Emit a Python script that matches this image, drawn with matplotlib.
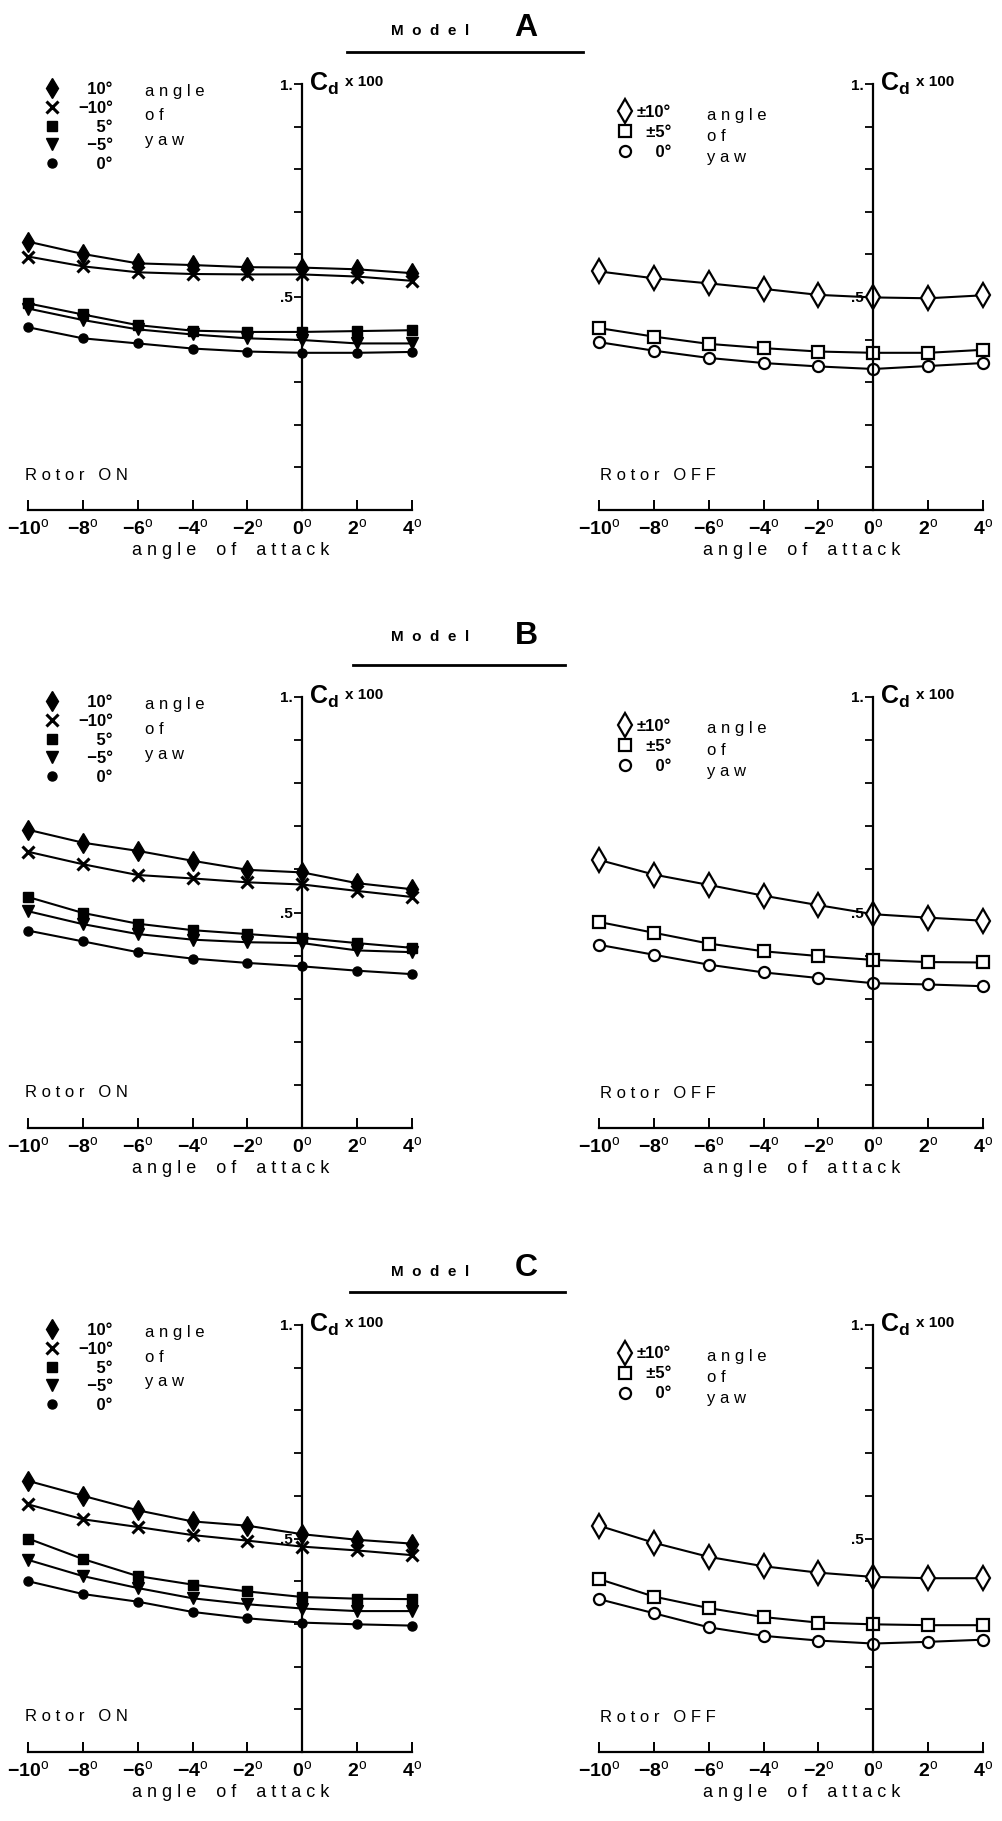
import matplotlib
matplotlib.use('Agg')
import matplotlib.pyplot as plt
from matplotlib.lines import Line2D
import numpy as np

plt.rcParams['font.family'] = ['Liberation Sans', 'DejaVu Sans']
plt.rcParams['mathtext.fontset'] = 'custom'
plt.rcParams['mathtext.rm'] = 'Liberation Sans'
plt.rcParams['mathtext.bf'] = 'Liberation Sans:bold'

# angle of attack (deg)
alpha = [-10, -8, -6, -4, -2, 0, 2, 4]
alpha_labels = ['-10', '-8', '-6', '-4', '-2', '0', '2', '4']

# yaw angles for the legends
on_yaw = ['10', '\u221210', '5', '\u22125', '0']
off_yaw = ['\u00b110', '\u00b15', '0']

# Cd x 100, Model A
a_on_p10 = [0.630, 0.601, 0.579, 0.575, 0.570, 0.569, 0.565, 0.556]
a_on_m10 = [0.595, 0.572, 0.558, 0.554, 0.553, 0.553, 0.548, 0.538]
a_on_p5 = [0.485, 0.459, 0.434, 0.421, 0.418, 0.418, 0.420, 0.422]
a_on_m5 = [0.473, 0.446, 0.424, 0.412, 0.403, 0.399, 0.391, 0.391]
a_on_0 = [0.429, 0.403, 0.391, 0.379, 0.372, 0.369, 0.369, 0.371]
a_off_10 = [0.560, 0.544, 0.532, 0.519, 0.505, 0.499, 0.497, 0.504]
a_off_5 = [0.427, 0.407, 0.390, 0.380, 0.372, 0.369, 0.369, 0.376]
a_off_0 = [0.394, 0.374, 0.357, 0.345, 0.337, 0.331, 0.338, 0.345]

# Model B
b_on_p10 = [0.692, 0.662, 0.643, 0.620, 0.599, 0.593, 0.568, 0.554]
b_on_m10 = [0.641, 0.612, 0.587, 0.579, 0.570, 0.565, 0.550, 0.536]
b_on_p5 = [0.536, 0.499, 0.474, 0.459, 0.450, 0.441, 0.429, 0.418]
b_on_m5 = [0.503, 0.473, 0.450, 0.437, 0.431, 0.429, 0.412, 0.408]
b_on_0 = [0.458, 0.433, 0.408, 0.393, 0.383, 0.375, 0.365, 0.357]
b_off_10 = [0.622, 0.588, 0.564, 0.539, 0.517, 0.496, 0.488, 0.481]
b_off_5 = [0.478, 0.453, 0.428, 0.410, 0.399, 0.390, 0.385, 0.384]
b_off_0 = [0.425, 0.402, 0.379, 0.361, 0.348, 0.336, 0.333, 0.329]

# Model C
c_on_p10 = [0.635, 0.600, 0.566, 0.540, 0.530, 0.510, 0.497, 0.488]
c_on_m10 = [0.580, 0.545, 0.527, 0.508, 0.495, 0.481, 0.472, 0.461]
c_on_p5 = [0.500, 0.452, 0.412, 0.392, 0.376, 0.363, 0.359, 0.358]
c_on_m5 = [0.450, 0.412, 0.384, 0.360, 0.346, 0.336, 0.330, 0.330]
c_on_0 = [0.400, 0.370, 0.352, 0.328, 0.313, 0.303, 0.299, 0.296]
c_off_10 = [0.530, 0.490, 0.457, 0.435, 0.420, 0.410, 0.407, 0.407]
c_off_5 = [0.405, 0.364, 0.337, 0.316, 0.303, 0.299, 0.297, 0.297]
c_off_0 = [0.358, 0.325, 0.292, 0.272, 0.261, 0.254, 0.258, 0.263]

models = ['A', 'B', 'C']
rotor_on = [[a_on_p10, a_on_m10, a_on_p5, a_on_m5, a_on_0],
            [b_on_p10, b_on_m10, b_on_p5, b_on_m5, b_on_0],
            [c_on_p10, c_on_m10, c_on_p5, c_on_m5, c_on_0]]
rotor_off = [[a_off_10, a_off_5, a_off_0],
             [b_off_10, b_off_5, b_off_0],
             [c_off_10, c_off_5, c_off_0]]

# marker styles
st_on = [dict(marker='d', ms=10, mfc='k'),
         dict(marker='x', ms=8, mew=2.2),
         dict(marker='s', ms=6.5, mfc='k'),
         dict(marker='v', ms=8.5, mfc='k'),
         dict(marker='o', ms=6.5, mfc='k')]
st_off = [dict(marker='d', ms=12, mfc='white', mew=1.6),
          dict(marker='s', ms=8, mfc='white', mew=1.6),
          dict(marker='o', ms=8, mfc='white', mew=1.6)]

W, H = 1003, 1821
fig = plt.figure(figsize=(W / 100, H / 100), dpi=100)

# layout in pixels
rows = [(84, 510), (697, 1128), (1325, 1752)]
cols = [(28, 412), (599, 983)]
titles = [(31, 28, 52, 347, 583), (637, 636, 665, 353, 565), (1272, 1268, 1292, 350, 565)]


def spaced(s):
    return ' '.join(s)


def pad(labels):
    n = max(len(l) for l in labels)
    return ['\u2007' * (n - len(l)) + l + '\u00b0' for l in labels]


def setup(ax):
    ax.set_xlim(-10, 4)
    ax.set_ylim(0, 1)
    ax.patch.set_visible(False)
    ax.spines['top'].set_visible(False)
    ax.spines['right'].set_visible(False)
    ax.spines['left'].set_position(('data', 0))
    ax.spines['left'].set_linewidth(1.6)
    ax.spines['bottom'].set_linewidth(1.6)
    ax.set_xticks(alpha)
    ax.set_xticklabels([r'$\mathbf{%s}^{\rm o}$' % l for l in alpha_labels], fontsize=14)
    ax.tick_params(axis='x', direction='in', length=7, width=1.4, pad=6)
    yt = np.round(np.arange(0.1, 1.01, 0.1), 1)
    ax.set_yticks(yt)
    ax.set_yticklabels(['1.' if v == 1.0 else '.5' if v == 0.5 else '' for v in yt],
                       fontsize=11, fontweight='bold')
    ax.tick_params(axis='y', direction='out', length=6, width=1.3, pad=1)
    ax.text(0.25, 1.0, r'$\mathbf{C}_{\mathbf{d}}$', fontsize=18, va='center', ha='left')
    ax.text(1.55, 1.005, 'x 100', fontsize=11, fontweight='bold', va='center', ha='left')
    ax.text(-2.6, -0.095, spaced('angle') + '    ' + spaced('of') + '    ' + spaced('attack'),
            fontsize=13, ha='center', va='center')


for i, m in enumerate(models):
    ytop, ybot = rows[i]
    # left: rotor on
    x0, x1 = cols[0]
    ax = fig.add_axes([x0 / W, 1 - ybot / H, (x1 - x0) / W, (ybot - ytop) / H])
    setup(ax)
    for y, st in zip(rotor_on[i], st_on):
        ax.plot(alpha, y, color='k', lw=1.5, clip_on=False, **st)
    hs = [Line2D([], [], color='k', ls='none', **st) for st in st_on]
    ax.legend(hs, pad(on_yaw), loc='upper left', bbox_to_anchor=(0.04, 1.004),
              frameon=False, handlelength=1.0, handletextpad=1.1, labelspacing=0.22,
              borderpad=0, borderaxespad=0, prop=dict(weight='bold', size=12))
    for w, yy in zip(['angle', 'of', 'yaw'], [0.983, 0.925, 0.867]):
        ax.text(0.305, yy, spaced(w), transform=ax.transAxes, fontsize=12, va='center')
    ax.text(-10.1, 0.082, spaced('Rotor') + '   ' + spaced('ON'), fontsize=12, va='center')

    # right: rotor off
    x0, x1 = cols[1]
    ax = fig.add_axes([x0 / W, 1 - ybot / H, (x1 - x0) / W, (ybot - ytop) / H])
    setup(ax)
    for y, st in zip(rotor_off[i], st_off):
        ax.plot(alpha, y, color='k', lw=1.5, clip_on=False, **st)
    hs = [Line2D([], [], color='k', ls='none', **st) for st in st_off]
    ax.legend(hs, pad(off_yaw), loc='upper left', bbox_to_anchor=(0.05, 0.95),
              frameon=False, handlelength=0.8, handletextpad=0.3, labelspacing=0.3,
              borderpad=0, borderaxespad=0, prop=dict(weight='bold', size=12))
    for w, yy in zip(['angle', 'of', 'yaw'], [0.927, 0.877, 0.827]):
        ax.text(0.28, yy, spaced(w), transform=ax.transAxes, fontsize=12, va='center')
    ax.text(-9.95, 0.08, spaced('Rotor') + '   ' + spaced('OFF'), fontsize=12, va='center')

    # model heading
    ym, yl, yu, u0, u1 = titles[i]
    fig.text(430 / W, 1 - ym / H, '  '.join('Model'), fontsize=11, fontweight='bold',
             ha='center', va='center')
    fig.text(526 / W, 1 - yl / H, m, fontsize=23, fontweight='bold', ha='center', va='center')
    fig.add_artist(Line2D([u0 / W, u1 / W], [1 - yu / H, 1 - yu / H],
                          transform=fig.transFigure, color='k', lw=2))

fig.savefig('out.png', dpi=100, facecolor='white')
